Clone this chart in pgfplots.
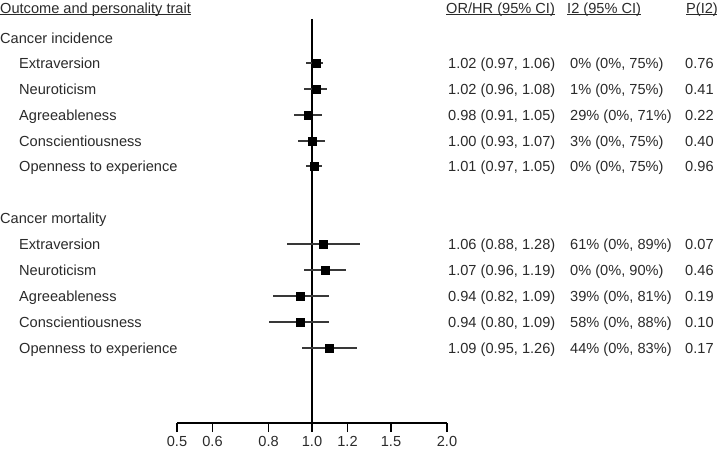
\documentclass[border=0pt]{standalone}
\usepackage{pgfplots}
\usepackage{pgfplotstable}
\usepackage{fontspec}
\setmainfont{Liberation Sans}
\pgfplotsset{compat=1.18}
\definecolor{txt}{HTML}{2A2A2A}
\definecolor{cil}{HTML}{383838}

\pgfplotstableread{
y   est  lo   hi
-63  1.02 0.97 1.06
-89  1.02 0.96 1.08
-115 0.98 0.91 1.05
-141 1.00 0.93 1.07
-166 1.01 0.97 1.05
-244 1.06 0.88 1.28
-270 1.07 0.96 1.19
-296 0.94 0.82 1.09
-322 0.94 0.80 1.09
-348 1.09 0.95 1.26
}\forest

\begin{document}
\begin{tikzpicture}[every node/.style={font=\fontsize{14.6bp}{17bp}\selectfont, text=txt, inner sep=0pt}]
\useasboundingbox (0,0) rectangle (717bp,-451bp);
\begin{axis}[
  at={(177bp,-423bp)}, anchor=south west,
  scale only axis, width=270bp, height=404bp,
  xmode=log, xmin=0.5, xmax=2, ymin=-423, ymax=-19,
  axis x line*=bottom, axis y line=none,
  x axis line style={-, line width=1.1bp, black},
  xtick={0.5,0.6,0.8,1,1.2,1.5,2},
  xticklabels={0.5,0.6,0.8,1.0,1.2,1.5,2.0},
  minor xtick={},
  tick align=outside, major tick length=9bp,
  xtick style={line width=1.1bp, black},
  xticklabel style={font=\fontsize{14.6bp}{17bp}\selectfont, text=txt, inner sep=0pt, yshift=-4bp},
  /pgf/number format/assume math mode=true,
  clip=false,
]
\addplot[black, line width=1.2bp] coordinates {(1,-19) (1,-423)};
\addplot[only marks, mark=square*, mark size=4bp, mark options={fill=black, draw=black},
  error bars/.cd, x dir=both, x explicit, error mark=none,
  error bar style={line width=1.4bp, cil}]
  table[x=est, y=y, x error plus expr=\thisrow{hi}-\thisrow{est}, x error minus expr=\thisrow{est}-\thisrow{lo}]{\forest};
\end{axis}

% headers
\node[anchor=base west] (h1) at (0bp,-13bp) {Outcome and personality trait};
\node[anchor=base west] (h2) at (446bp,-13bp) {OR/HR (95\% CI)};
\node[anchor=base west] (h3) at (567bp,-13bp) {I2 (95\% CI)};
\node[anchor=base west] (h4) at (686bp,-13bp) {P(I2)};
\foreach \n in {h1,h2,h3,h4}{
  \draw[txt, line width=0.8bp] ([yshift=-1.8bp]\n.base west) -- ([yshift=-1.8bp]\n.base east);
}
% group labels
\node[anchor=base west] at (0bp,-43bp) {Cancer incidence};
\node[anchor=base west] at (0bp,-223bp) {Cancer mortality};
% rows
\foreach \y/\lab/\orhr/\itwo/\p in {
  68/Extraversion/{1.02 (0.97, 1.06)}/{0\% (0\%, 75\%)}/0.76,
  94/Neuroticism/{1.02 (0.96, 1.08)}/{1\% (0\%, 75\%)}/0.41,
  120/Agreeableness/{0.98 (0.91, 1.05)}/{29\% (0\%, 71\%)}/0.22,
  146/Conscientiousness/{1.00 (0.93, 1.07)}/{3\% (0\%, 75\%)}/0.40,
  171/Openness to experience/{1.01 (0.97, 1.05)}/{0\% (0\%, 75\%)}/0.96,
  249/Extraversion/{1.06 (0.88, 1.28)}/{61\% (0\%, 89\%)}/0.07,
  275/Neuroticism/{1.07 (0.96, 1.19)}/{0\% (0\%, 90\%)}/0.46,
  301/Agreeableness/{0.94 (0.82, 1.09)}/{39\% (0\%, 81\%)}/0.19,
  327/Conscientiousness/{0.94 (0.80, 1.09)}/{58\% (0\%, 88\%)}/0.10,
  353/Openness to experience/{1.09 (0.95, 1.26)}/{44\% (0\%, 83\%)}/0.17}{
  \node[anchor=base west] at (19bp,-\y bp) {\lab};
  \node[anchor=base west] at (448bp,-\y bp) {\orhr};
  \node[anchor=base west] at (570bp,-\y bp) {\itwo};
  \node[anchor=base west] at (685bp,-\y bp) {\p};
}
\end{tikzpicture}
\end{document}
